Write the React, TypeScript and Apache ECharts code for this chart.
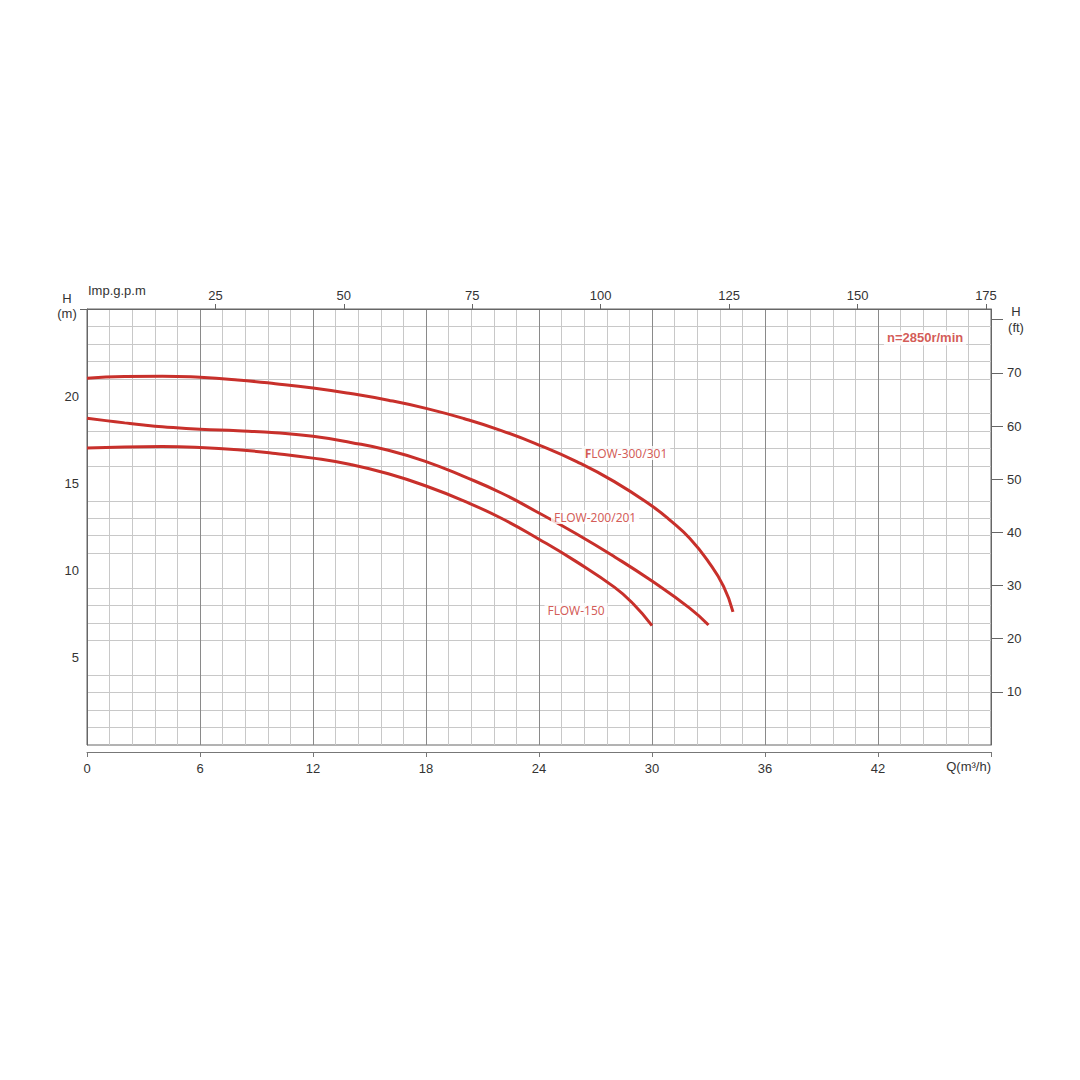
import React, { useEffect, useRef } from "react";
import * as echarts from "echarts";

// Flow Q (m³/h) vs head H (m) curves
const flow300 = [[0, 21.03], [2, 21.13], [4, 21.15], [6, 21.08], [8, 20.93], [10, 20.72], [12, 20.47], [14, 20.15], [16, 19.77], [18, 19.3], [20, 18.72], [22, 18.03], [24, 17.2], [26, 16.25], [28, 15.1], [30, 13.7], [31, 12.85], [32, 11.85], [33, 10.5], [33.8, 9.1], [34.3, 7.64]];
const flow200 = [[0, 18.73], [1, 18.6], [2, 18.47], [3, 18.35], [4, 18.25], [6, 18.1], [8, 18.02], [10, 17.9], [12, 17.7], [14, 17.35], [16, 16.9], [18, 16.25], [20, 15.4], [22, 14.45], [24, 13.3], [26, 12.1], [28, 10.8], [30, 9.4], [32, 7.85], [33, 6.88]];
const flow150 = [[0, 17.03], [2, 17.09], [4, 17.11], [6, 17.06], [8, 16.93], [10, 16.72], [12, 16.45], [14, 16.08], [16, 15.55], [18, 14.85], [20, 14.0], [22, 13.0], [24, 11.8], [26, 10.5], [28, 9.05], [29, 8.1], [30, 6.85]];

const seriesNames = ["FLOW-300/301", "FLOW-200/201", "FLOW-150"];
// label anchor positions (data coords)
const labelPos = [[28.62, 16.74], [26.98, 13.07], [25.97, 7.74]];
const speedLabel = "n=2850r/min";
const speedPos = [44.5, 23.34];

const flowTicks = [0, 6, 12, 18, 24, 30, 36, 42];
const gpmTicks = [25, 50, 75, 100, 125, 150, 175];
const headMTicks = [5, 10, 15, 20, 25];
const headFtTicks = [10, 20, 30, 40, 50, 60, 70, 80];

const Q_MAX = 48;
const H_MAX = 25;
const GPM_PER_M3H = 3.6662;
const FT_PER_M = 3.28084;

const RED = "#c8302b";
const TXT = "#333";
const FONT = "Liberation Sans, Arial, sans-serif";

export default function App() {
  const ref = useRef<HTMLDivElement>(null);
  useEffect(() => {
    const chart = echarts.init(ref.current!, null, { renderer: "svg" });
    const lineSeries = (name: string, data: number[][]) => ({
      name,
      type: "line",
      data,
      smooth: 0.5,
      showSymbol: false,
      symbol: "none",
      xAxisIndex: 0,
      yAxisIndex: 0,
      lineStyle: { color: RED, width: 3 },
      z: 3,
    });
    const labelData = seriesNames.map((n, i) => ({
      value: labelPos[i],
      label: {
        formatter: i === 0 ? "{b|F}LOW-300/301" : n,
      },
    }));
    chart.setOption({
      animation: false,
      grid: {
        left: 87,
        top: 309,
        width: 904,
        height: 436,
        show: true,
        borderColor: "#666",
        borderWidth: 1,
        backgroundColor: "#fff",
      },
      xAxis: [
        {
          type: "value",
          position: "bottom",
          min: 0,
          max: Q_MAX,
          interval: 6,
          offset: 7,
          axisLine: { show: true, onZero: false, lineStyle: { color: "#777", width: 1 } },
          axisTick: { show: true, length: 5, inside: false, lineStyle: { color: "#777" } },
          axisLabel: {
            customValues: flowTicks,
            color: TXT,
            fontSize: 13,
            fontFamily: FONT,
            margin: 10,
          },
          splitLine: { show: true, lineStyle: { color: "#8a8a8a", width: 1 } },
          minorTick: { show: false, splitNumber: 5 },
          minorSplitLine: { show: true, lineStyle: { color: "#c8c8c8", width: 1 } },
        },
        {
          type: "value",
          position: "top",
          min: 0,
          max: Q_MAX * GPM_PER_M3H,
          interval: 25,
          axisLine: { show: true, onZero: false, lineStyle: { color: "#666", width: 1 } },
          axisTick: { show: true, length: 5, customValues: gpmTicks, lineStyle: { color: "#666" } },
          axisLabel: {
            customValues: gpmTicks,
            color: TXT,
            fontSize: 13,
            fontFamily: FONT,
            margin: 7,
          },
          splitLine: { show: false },
        },
      ],
      yAxis: [
        {
          type: "value",
          position: "left",
          min: 0,
          max: H_MAX,
          interval: 5,
          axisLine: { show: true, onZero: false, lineStyle: { color: "#666", width: 1 } },
          axisTick: { show: true, length: 7, customValues: [H_MAX], lineStyle: { color: "#666" } },
          axisLabel: {
            customValues: headMTicks,
            formatter: (v: number) => (v === 25 ? "{c|H}\n{c|(m)}\n{e|}" : String(v)),
            color: TXT,
            fontSize: 13,
            fontFamily: FONT,
            margin: 8,
            rich: {
              c: { width: 24, align: "center", color: TXT, fontSize: 13, lineHeight: 15, fontFamily: FONT },
              e: { lineHeight: 7, fontSize: 1 },
            },
          },
          splitLine: { show: true, lineStyle: { color: "#8a8a8a", width: 1 } },
          minorTick: { show: false, splitNumber: 5 },
          minorSplitLine: { show: true, lineStyle: { color: "#c8c8c8", width: 1 } },
        },
        {
          type: "value",
          position: "right",
          min: 0,
          max: H_MAX * FT_PER_M,
          interval: 10,
          axisLine: { show: true, onZero: false, lineStyle: { color: "#666", width: 1 } },
          axisTick: { show: true, length: 12, customValues: headFtTicks, lineStyle: { color: "#666" } },
          axisLabel: {
            customValues: headFtTicks,
            formatter: (v: number) => (v === 80 ? "{c|H}\n{c|(ft)}" : String(v)),
            color: TXT,
            fontSize: 13,
            fontFamily: FONT,
            margin: 16,
            rich: {
              c: { width: 18, align: "center", color: TXT, fontSize: 13, lineHeight: 16, fontFamily: FONT },
            },
          },
          splitLine: { show: false },
        },
      ],
      series: [
        lineSeries(seriesNames[0], flow300),
        lineSeries(seriesNames[1], flow200),
        lineSeries(seriesNames[2], flow150),
        {
          type: "scatter",
          xAxisIndex: 0,
          yAxisIndex: 0,
          symbolSize: 0,
          silent: true,
          z: 5,
          data: labelData,
          label: {
            show: true,
            position: "inside",
            color: RED,
            fontSize: 12,
            fontFamily: "Noto Sans, sans-serif",
            backgroundColor: "#fff",
            padding: [1, 3],
            rich: {
              b: { fontWeight: "bold", color: RED, fontSize: 12, fontFamily: "Noto Sans, sans-serif" },
            },
          },
        },
        {
          type: "scatter",
          xAxisIndex: 0,
          yAxisIndex: 0,
          symbolSize: 0,
          silent: true,
          z: 5,
          data: [{ value: speedPos }],
          label: {
            show: true,
            position: "inside",
            formatter: speedLabel,
            color: RED,
            fontSize: 13,
            fontWeight: "bold",
            fontFamily: FONT,
            backgroundColor: "#fff",
            padding: [1, 3],
          },
        },
      ],
      graphic: [
        {
          type: "text",
          left: 88,
          top: 284,
          style: { text: "Imp.g.p.m", fill: TXT, fontSize: 13, fontFamily: FONT },
        },
        {
          type: "text",
          right: 1080 - 991,
          top: 760,
          style: { text: "Q(m³/h)", fill: TXT, fontSize: 13, fontFamily: FONT },
        },
      ],
    });
    return () => chart.dispose();
  }, []);
  return (
    <div
      ref={ref}
      style={{ position: "absolute", left: 0, top: 0, width: 1080, height: 1080, background: "#fff" }}
    />
  );
}
